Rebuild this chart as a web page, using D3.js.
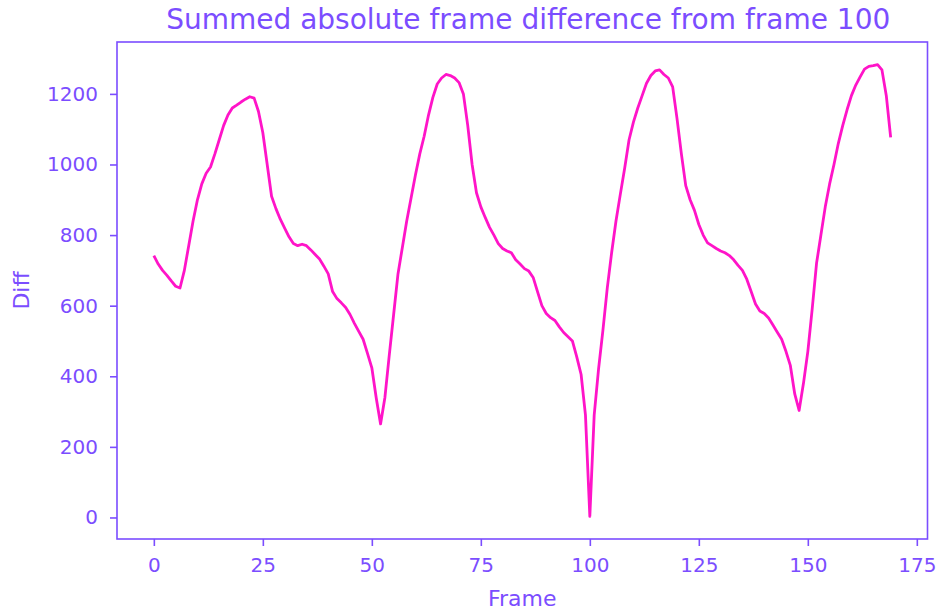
<!DOCTYPE html>
<html>
<head>
<meta charset="utf-8">
<script src="https://cdn.jsdelivr.net/npm/d3@7"></script>
<style>
  body { margin: 0; background: #fff; }
  text { font-family: "DejaVu Sans", sans-serif; fill: #7b4dff; }
</style>
</head>
<body>
<svg id="chart" width="939" height="612"></svg>
<script>
// summed abs difference vs frame 100
var frames = d3.range(0, 170)
var diffs = [
  742, 718, 700, 686, 670, 655, 650, 700, 770, 840,
  900, 945, 975, 993, 1030, 1070, 1110, 1140, 1160, 1168,
  1177, 1185, 1192, 1188, 1150, 1090, 1000, 910, 875, 845,
  820, 795, 776, 770, 774, 770, 758, 745, 732, 712,
  690, 640, 620, 608, 595, 575, 550, 527, 505, 465,
  424, 339, 265, 340, 460, 575, 690, 765, 840, 905,
  970, 1030, 1080, 1140, 1190, 1228, 1245, 1255, 1252, 1245,
  1232, 1200, 1110, 1000, 920, 880, 850, 822, 800, 776,
  762, 755, 750, 730, 718, 705, 698, 680, 640, 600,
  578, 566, 558, 540, 524, 512, 500, 455, 405, 290,
  3, 290, 420, 530, 650, 750, 840, 916, 990, 1070,
  1120, 1160, 1195, 1230, 1252, 1265, 1268, 1255, 1245, 1220,
  1130, 1030, 940, 900, 870, 830, 800, 778, 770, 762,
  755, 750, 742, 730, 714, 700, 675, 640, 605, 585,
  578, 565, 545, 525, 505, 470, 430, 350, 303, 380,
  470, 590, 720, 800, 880, 945, 1000, 1060, 1110, 1155,
  1195, 1225, 1248, 1270, 1278, 1280, 1283, 1268, 1195, 1077
]
var xTicks = [0, 25, 50, 75, 100, 125, 150, 175]
var yTicks = [0, 200, 400, 600, 800, 1000, 1200]

var axisColor = "#7b4dff"
var lineColor = "#ff14c8"

var svg = d3.select("#chart")
var mLeft = 117, mRight = 927.5, mTop = 42, mBottom = 539

// matplotlib style 5% margins
var xspan = d3.max(frames) - d3.min(frames)
var yspan = d3.max(diffs) - d3.min(diffs)

var x = d3.scaleLinear()
          .domain([d3.min(frames) - xspan * 0.05, d3.max(frames) + xspan * 0.05])
          .range([mLeft, mRight])

var y = d3.scaleLinear()
          .domain([d3.min(diffs) - yspan * 0.05, d3.max(diffs) + yspan * 0.05])
          .range([mBottom, mTop])

svg.append("g")
   .attr("transform", "translate(0," + mBottom + ")")
   .call(d3.axisBottom(x).tickValues(xTicks).tickFormat(d3.format("d"))
           .tickSize(7).tickPadding(12).tickSizeOuter(0))

svg.append("g")
   .attr("transform", "translate(" + mLeft + ",0)")
   .call(d3.axisLeft(y).tickValues(yTicks).tickFormat(d3.format("d"))
           .tickSize(7).tickPadding(12).tickSizeOuter(0))

svg.selectAll(".domain").remove()
svg.selectAll(".tick line").attr("stroke", axisColor).attr("stroke-width", 1.6)
svg.selectAll(".tick text")
   .attr("fill", axisColor)
   .style("font-size", "20px")
   .style("font-family", "DejaVu Sans, sans-serif")

// frame around the plot
svg.append("rect")
   .attr("x", mLeft)
   .attr("y", mTop)
   .attr("width", mRight - mLeft)
   .attr("height", mBottom - mTop)
   .attr("fill", "none")
   .attr("stroke", axisColor)
   .attr("stroke-width", 1.6)

var line = d3.line()
             .x(function(d, i) { return x(frames[i]) })
             .y(function(d) { return y(d) })

svg.append("path")
   .datum(diffs)
   .attr("d", line)
   .attr("fill", "none")
   .attr("stroke", lineColor)
   .attr("stroke-width", 2.8)
   .attr("stroke-linejoin", "round")

svg.append("text")
   .attr("x", (mLeft + mRight) / 2 + 6)
   .attr("y", 29)
   .attr("text-anchor", "middle")
   .style("font-size", "28px")
   .text("Summed absolute frame difference from frame 100")

svg.append("text")
   .attr("x", (mLeft + mRight) / 2)
   .attr("y", 606)
   .attr("text-anchor", "middle")
   .style("font-size", "22px")
   .text("Frame")

svg.append("text")
   .attr("transform", "translate(29," + ((mTop + mBottom) / 2) + ") rotate(-90)")
   .attr("text-anchor", "middle")
   .style("font-size", "22px")
   .text("Diff")
</script>
</body>
</html>
